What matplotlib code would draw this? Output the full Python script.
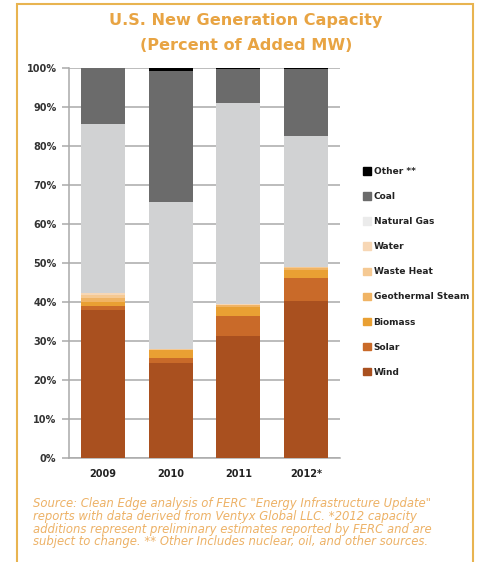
import matplotlib.pyplot as plt
import matplotlib.patches as mpatches
import numpy as np

years = ['2009', '2010', '2011', '2012*']

# percent of added MW, bottom to top
wind = [38.0, 24.3, 31.2, 40.3]
solar = [1.0, 1.3, 5.1, 5.8]
biomass = [1.0, 2.0, 2.5, 2.1]
geothermal = [1.1, 0.0, 0.3, 0.5]
waste_heat = [0.6, 0.2, 0.2, 0.2]
water = [0.7, 0.2, 0.2, 0.1]
natural_gas = [43.2, 37.5, 51.5, 33.6]
coal = [14.2, 33.7, 8.7, 17.1]
other = [0.2, 0.8, 0.3, 0.3]

series = [
    ('Wind', wind, '#A9501F'),
    ('Solar', solar, '#C96A29'),
    ('Biomass', biomass, '#E9A033'),
    ('Geothermal Steam', geothermal, '#F0B465'),
    ('Waste Heat', waste_heat, '#F5C993'),
    ('Water', water, '#F7D7B5'),
    ('Natural Gas', natural_gas, '#D1D2D3'),
    ('Coal', coal, '#6B6B6B'),
    ('Other **', other, '#000000'),
]
legend_colors = {'Natural Gas': '#EBEBEB'}

fig = plt.figure(figsize=(4.81, 5.62), dpi=100)
ax = fig.add_axes([69/481, 1-458/562, 271/481, 390.3/562])

x = np.arange(len(years))
bottom = np.zeros(len(years))
for name, vals, col in series:
    ax.bar(x, vals, 0.65, bottom=bottom, color=col, zorder=3)
    bottom += np.array(vals)

ax.set_xlim(-0.5, 3.5)
ax.set_ylim(0, 100)
ax.set_yticks(range(0, 101, 10))
ax.set_yticklabels([f'{v}%' for v in range(0, 101, 10)], fontsize=7, fontweight='bold', color='#333333')
ax.set_xticks(x)
ax.set_xticklabels(years, fontsize=7, fontweight='bold', color='#222222')
ax.yaxis.grid(True, color='#AAAAAA', linewidth=1.1, zorder=0)
ax.tick_params(axis='y', length=5, color='#AAAAAA', width=1.1, pad=4)
ax.tick_params(axis='x', length=0, pad=8)
for s in ['top', 'right']:
    ax.spines[s].set_visible(False)
for s in ['left', 'bottom']:
    ax.spines[s].set_color('#AAAAAA')
    ax.spines[s].set_linewidth(1.1)

# legend, top entry first
handles = [mpatches.Patch(color=legend_colors.get(n, c), label=n) for n, v, c in series[::-1]]
leg = fig.legend(handles=handles, loc='upper left', bbox_to_anchor=(355/481, 1-159/562),
                 frameon=False, prop={'weight': 'bold', 'size': 6.5},
                 handlelength=0.9, handleheight=0.9, handletextpad=0.25, labelspacing=1.78)
for t in leg.get_texts():
    t.set_color('#222222')

title_col = '#E8A443'
fig.text(246/481, 1-20/562, 'U.S. New Generation Capacity', ha='center', va='center',
         fontsize=11.6, fontweight='bold', color=title_col)
fig.text(246/481, 1-45/562, '(Percent of Added MW)', ha='center', va='center',
         fontsize=11.6, fontweight='bold', color=title_col)

source = ('Source: Clean Edge analysis of FERC "Energy Infrastructure Update"\n'
          'reports with data derived from Ventyx Global LLC. *2012 capacity\n'
          'additions represent preliminary estimates reported by FERC and are\n'
          'subject to change. ** Other Includes nuclear, oil, and other sources.')
fig.text(33/481, 1-497/562, source, ha='left', va='top', fontsize=8.4, style='italic',
         color='#EDB267', linespacing=0.98)

# golden frame
frame = mpatches.Rectangle((17/481, -0.05), 456/481, 1.05 - 4/562, transform=fig.transFigure,
                           fill=False, edgecolor='#E8B450', linewidth=1.5)
fig.patches.append(frame)

fig.savefig('out.png', dpi=100)
